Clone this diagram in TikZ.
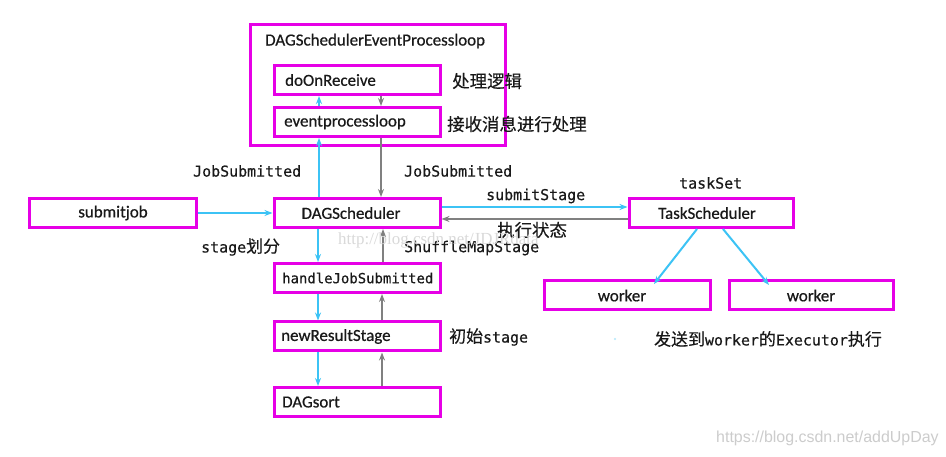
\documentclass[tikz,border=0pt]{standalone}
\usepackage{fontspec}
\setmainfont{Carlito}[FakeBold=0.6]
\newfontfamily\cjk{Noto Sans CJK SC}[FakeBold=0.3]
\newfontfamily\mono{DejaVu Sans Mono}[FakeBold=0.5]
\newfontfamily\wmfont{Liberation Serif}
\newfontfamily\wmsans{Liberation Sans}
\usetikzlibrary{arrows.meta}
\definecolor{mag}{RGB}{230,0,230}
\definecolor{cy}{RGB}{60,195,245}
\definecolor{gr}{RGB}{128,128,128}
\definecolor{txt}{RGB}{25,25,25}
\newcommand{\cj}[1]{{\cjk\fontsize{17}{17}\selectfont #1}}
\begin{document}
\begin{tikzpicture}[x=1bp,y=-1bp,
  box/.style={draw=mag,line width=3bp,minimum width=#1,minimum height=29bp,inner sep=0pt},
  box/.default=166bp,
  lab/.style={font=\fontsize{17}{17}\selectfont,text=txt,inner sep=0pt,anchor=west},
  mlab/.style={font=\mono\fontsize{15}{15}\selectfont,text=txt,inner sep=0pt,anchor=west},
  clab/.style={font=\cjk\fontsize{17.5}{17.5}\selectfont,text=txt,inner sep=0pt,anchor=west},
  barrow/.style={draw=cy,line width=2bp,-{Stealth[length=8bp,width=6bp]}},
  garrow/.style={draw=gr,line width=2.2bp,-{Stealth[length=8bp,width=6bp]}}]
\useasboundingbox[fill=white] (0,0) rectangle (946,457);
% boxes
\node[box=255bp,minimum height=121bp] (outer) at (378,85) {};
\node[lab] (outerlab) at (265,41) {DAGSchedulerEventProcessloop};
\node[box] (do) at (357,80) {};
\node[lab] at (285,80) {doOnReceive};
\node[box] (ep) at (357,122) {};
\node[lab] at (284,122) {eventprocessloop};
\node[box] (dag) at (357,213) {};
\node[lab,anchor=center] at (351,213) {DAGScheduler};
\node[box] (sj) at (113,213) {};
\node[lab,anchor=center] at (113,213) {submitjob};
\node[box=164bp] (ts) at (711,213) {};
\node[lab,anchor=center] at (707,213) {TaskScheduler};
\node[box] (w1) at (627,295.5) {};
\node[lab,anchor=center] at (622,295.5) {worker};
\node[box=164bp] (w2) at (811,295.5) {};
\node[lab,anchor=center] at (811,295.5) {worker};
\node[box] (hj) at (357,278) {};
\node[mlab,font=\mono\fontsize{14}{14}\selectfont] at (282,278) {handleJobSubmitted};
\node[box] (nr) at (357,336.5) {};
\node[lab] at (281,336.5) {newResultStage};
\node[box] (ds) at (357,402) {};
\node[lab] at (282,402) {DAGsort};
% arrows
\draw[barrow] (sj.east) -- (dag.west);
\draw[barrow] (dag.north -| 319,0) -- (ep.south -| 319,0);
\draw[barrow] (ep.north -| 319,0) -- (do.south -| 319,0);
\draw[garrow] (do.south -| 381,0) -- (ep.north -| 381,0);
\draw[garrow] (ep.south -| 381,0) -- (dag.north -| 381,0);
\draw[barrow] ([yshift=6bp]dag.east) -- ([yshift=6bp]ts.west);
\draw[garrow] ([yshift=-6bp]ts.west) -- ([yshift=-6bp]dag.east);
\draw[barrow] (dag.south -| 318,0) -- (hj.north -| 318,0);
\draw[barrow] (hj.south -| 318,0) -- (nr.north -| 318,0);
\draw[barrow] (nr.south -| 318,0) -- (ds.north -| 318,0);
\draw[garrow] (ds.north -| 382,0) -- (nr.south -| 382,0);
\draw[garrow] (nr.north -| 382,0) -- (hj.south -| 382,0);
\draw[garrow] (hj.north -| 383,0) -- (dag.south -| 383,0);
\coordinate (t1) at (654,284);
\coordinate (t2) at (769,285);
\draw[barrow] (ts.south -| 697,0) -- (t1);
\draw[barrow] (ts.south -| 723,0) -- (t2);
% labels
\node[clab] at (452,81) {处理逻辑};
\node[clab] at (447,124) {接收消息进行处理};
\node[mlab] at (193,171) {JobSubmitted};
\node[mlab] at (404,171) {JobSubmitted};
\node[mlab] at (486,196) {submitStage};
\node[clab] at (497,230) {执行状态};
\node[mlab] at (201,247) {stage\cj{划分}};
\node[mlab] at (404,248) {ShuffleMapStage};
\node[mlab] at (679,183) {taskSet};
\node[mlab] at (449,337) {\cj{初始}stage};
\node[mlab] at (654,339) {\cj{发送到}worker\cj{的}Executor\cj{执行}};
\fill[cy!40] (615,339) circle (1.2bp);
% watermarks
\node[font=\wmfont\fontsize{17}{17}\selectfont,text=black!15,inner sep=0pt,anchor=west] at (338,240) {http://blog.csdn.net/JDJRdata};
\node[font=\wmsans\fontsize{16}{16}\selectfont,text=black!20,inner sep=0pt,anchor=west] at (716,438) {https://blog.csdn.net/addUpDay};
\end{tikzpicture}
\end{document}
